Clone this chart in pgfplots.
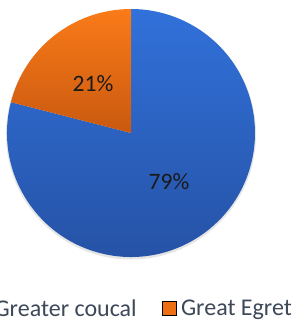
\documentclass[border=0pt]{standalone}
\usepackage{pgfplots}
\pgfplotsset{compat=1.18}
\usepackage{fontspec}
\setmainfont{Carlito}
\definecolor{blueT}{HTML}{3171DA}
\definecolor{blueB}{HTML}{2551A3}
\definecolor{blueM}{HTML}{2C62C4}
\definecolor{orT}{HTML}{FA7B18}
\definecolor{orB}{HTML}{C95910}
\definecolor{orM}{HTML}{EE6E14}
\definecolor{lbl}{HTML}{1A1A1A}
\definecolor{leg}{HTML}{3D4858}
% data (percent)
\def\valCoucal{79}
\def\valEgret{21}
\pgfmathsetmacro\angEgret{90+3.6*\valEgret}
\pgfmathsetmacro\angEnd{90+3.6*(\valEgret+\valCoucal)}
\pgfmathsetmacro\midEgret{90+1.8*\valEgret}
\pgfmathsetmacro\midCoucal{\angEgret+1.8*\valCoucal}
\begin{document}
\begin{tikzpicture}[x=1bp,y=1bp]
\useasboundingbox (0,0) rectangle (295,322);
\begin{axis}[
  at={(131bp,189bp)}, anchor=center,
  width=248bp, height=248bp, scale only axis,
  xmin=-1,xmax=1,ymin=-1,ymax=1,
  hide axis, clip=false,
  legend columns=2,
  legend style={draw=none, fill=none, inner sep=0pt,
    font=\fontsize{24bp}{28bp}\selectfont, text=leg,
    nodes={inner sep=0pt},
    at={(-0.129,-0.2077)}, anchor=west,
    /tikz/every odd column/.append style={column sep=5bp},
    /tikz/every even column/.append style={column sep=25bp}},
  legend image code/.code={\fill[#1] (0bp,-7bp) rectangle (14bp,7bp);},
]
\addlegendimage{fill=blueM}
\addlegendentry{Greater coucal}
\addlegendimage{fill=orM}
\addlegendentry{Great Egret}
\fill[black!25, opacity=0.4] (axis cs:0,-0.012) circle[radius=125bp];
\shade[top color=blueT, bottom color=blueB] (axis cs:0,0) -- ({axis cs:{cos(\angEgret)},{sin(\angEgret)}}) arc[start angle=\angEgret, end angle=\angEnd, radius=124bp] -- cycle;
\shade[top color=orT, bottom color=orB] (axis cs:0,0) -- (axis cs:0,1) arc[start angle=90, end angle=\angEgret, radius=124bp] -- cycle;
\node[text=lbl, font=\fontsize{23.5bp}{28bp}\selectfont] at ({axis cs:{0.5*cos(\midEgret)},{0.5*sin(\midEgret)}}) {21\%};
\node[text=lbl, font=\fontsize{23.5bp}{28bp}\selectfont] at ({axis cs:{0.5*cos(\midCoucal)},{0.5*sin(\midCoucal)}}) {79\%};
\end{axis}
\end{tikzpicture}
\end{document}
